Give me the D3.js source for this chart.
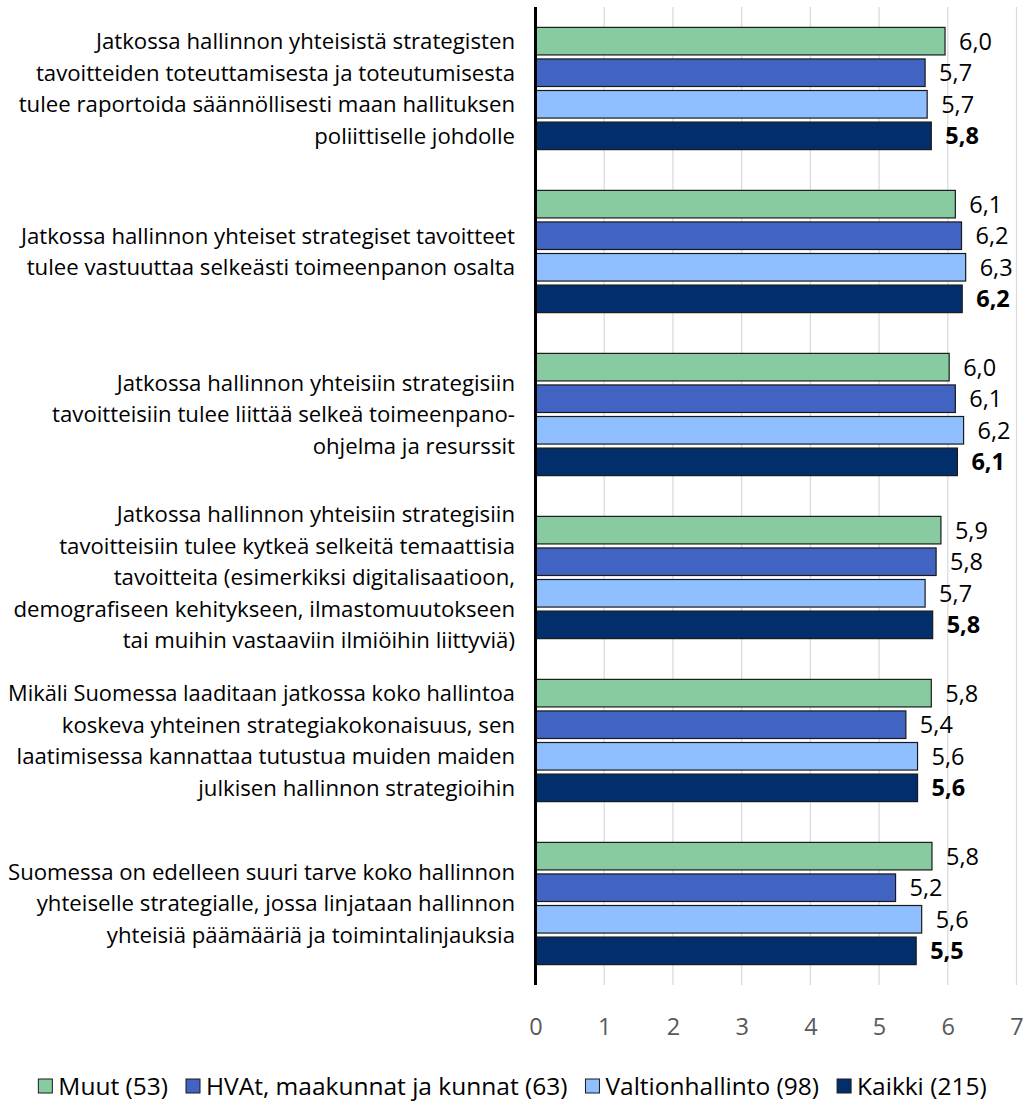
<!DOCTYPE html>
<html>
<head>
<meta charset="utf-8">
<script src="https://cdn.jsdelivr.net/npm/d3@7"></script>
<style>
  body { margin: 0; background: #fff; }
  svg { display: block; font-family: "Open Sans", sans-serif; }
</style>
</head>
<body>
<div id="chart"></div>
<script>
// ------------------------------------------------------------
// Data
// ------------------------------------------------------------
const categories = [
  ["Jatkossa hallinnon yhteisistä strategisten", "tavoitteiden toteuttamisesta ja toteutumisesta", "tulee raportoida säännöllisesti maan hallituksen", "poliittiselle johdolle"],
  ["Jatkossa hallinnon yhteiset strategiset tavoitteet", "tulee vastuuttaa selkeästi toimeenpanon osalta"],
  ["Jatkossa hallinnon yhteisiin strategisiin", "tavoitteisiin tulee liittää selkeä toimeenpano-", "ohjelma ja resurssit"],
  ["Jatkossa hallinnon yhteisiin strategisiin", "tavoitteisiin tulee kytkeä selkeitä temaattisia", "tavoitteita (esimerkiksi digitalisaatioon,", "demografiseen kehitykseen, ilmastomuutokseen", "tai muihin vastaaviin ilmiöihin liittyviä)"],
  ["Mikäli Suomessa laaditaan jatkossa koko hallintoa", "koskeva yhteinen strategiakokonaisuus, sen", "laatimisessa kannattaa tutustua muiden maiden", "julkisen hallinnon strategioihin"],
  ["Suomessa on edelleen suuri tarve koko hallinnon", "yhteiselle strategialle, jossa linjataan hallinnon", "yhteisiä päämääriä ja toimintalinjauksia"]
];

const seriesNames = ["Muut (53)", "HVAt, maakunnat ja kunnat (63)", "Valtionhallinto (98)", "Kaikki (215)"];
const seriesColors = ["#88cba1", "#4163c2", "#8fbfff", "#022e6b"];

const muut = [5.96, 6.11, 6.02, 5.90, 5.76, 5.77];
const hvat = [5.67, 6.20, 6.11, 5.83, 5.39, 5.24];
const valtio = [5.70, 6.26, 6.23, 5.67, 5.56, 5.62];
const kaikki = [5.76, 6.21, 6.14, 5.78, 5.56, 5.54];

const xTicks = [0, 1, 2, 3, 4, 5, 6, 7];

// ------------------------------------------------------------
// Setup
// ------------------------------------------------------------
const width = 1025, height = 1108;
const margin = { top: 7, right: 8.5, bottom: 123, left: 535.5 };

const svg = d3.select("#chart").append("svg")
  .attr("width", width)
  .attr("height", height);

const allSeries = [muut, hvat, valtio, kaikki];
const data = categories.map((lines, i) => ({
  idx: i,
  lines,
  values: allSeries.map((s, j) => ({ series: j, value: s[i] }))
}));

const x = d3.scaleLinear()
  .domain([0, 7])
  .range([margin.left, width - margin.right]);

const y0 = d3.scaleBand()
  .domain(d3.range(categories.length))
  .range([margin.top, height - margin.bottom])
  .paddingInner(0.25)
  .paddingOuter(0.125);

const y1 = d3.scaleBand()
  .domain(d3.range(seriesNames.length))
  .range([0, y0.bandwidth()])
  .paddingInner(0.127);

const fmt = v => d3.format(".1f")(v).replace(".", ",");

// Gridlines
svg.append("g")
  .selectAll("line")
  .data(xTicks.slice(1))
  .join("line")
  .attr("x1", d => x(d))
  .attr("x2", d => x(d))
  .attr("y1", margin.top)
  .attr("y2", height - margin.bottom)
  .attr("stroke", "#d9d9d9")
  .attr("stroke-width", 1.2);

// Bars
const groups = svg.append("g")
  .selectAll("g")
  .data(data)
  .join("g")
  .attr("transform", d => `translate(0,${y0(d.idx)})`);

groups.selectAll("rect")
  .data(d => d.values)
  .join("rect")
  .attr("x", x(0))
  .attr("y", d => y1(d.series))
  .attr("width", d => x(d.value) - x(0))
  .attr("height", y1.bandwidth())
  .attr("fill", d => seriesColors[d.series])
  .attr("stroke", "#1a1a1a")
  .attr("stroke-width", 1.2);

// Value labels
groups.selectAll("text.val")
  .data(d => d.values)
  .join("text")
  .attr("class", "val")
  .attr("x", d => x(d.value) + 14)
  .attr("y", d => y1(d.series) + y1.bandwidth() / 2)
  .attr("dy", "0.36em")
  .attr("font-size", 23.5)
  .attr("font-weight", d => d.series === 3 ? "bold" : "normal")
  .attr("fill", "#000")
  .text(d => fmt(d.value));

// Category labels
const lineH = 31.5;
const labelRight = 515, labelMaxW = 507;
groups.append("text")
  .attr("text-anchor", "end")
  .attr("font-size", 22.2)
  .attr("fill", "#000")
  .selectAll("tspan")
  .data(d => d.lines.map((t, k) => ({ t, k, n: d.lines.length })))
  .join("tspan")
  .attr("x", labelRight)
  .attr("y", d => y0.bandwidth() / 2 + (d.k - (d.n - 1) / 2) * lineH)
  .attr("dy", "0.35em")
  .text(d => d.t)
  .each(function() {
    // squeeze any line that would run off the left edge
    if (this.getComputedTextLength() > labelMaxW) {
      d3.select(this).attr("textLength", labelMaxW).attr("lengthAdjust", "spacingAndGlyphs");
    }
  });

// Axis (value axis at x = 0)
svg.append("line")
  .attr("x1", x(0))
  .attr("x2", x(0))
  .attr("y1", margin.top)
  .attr("y2", height - margin.bottom)
  .attr("stroke", "#000")
  .attr("stroke-width", 3);

const xAxis = svg.append("g")
  .attr("transform", `translate(0,${height - margin.bottom + 33})`)
  .call(d3.axisBottom(x).tickValues(xTicks).tickFormat(d3.format("d")).tickSize(0).tickPadding(0));
xAxis.select(".domain").remove();
xAxis.selectAll("text")
  .attr("font-size", 23.5)
  .attr("font-family", "'Open Sans', sans-serif")
  .attr("fill", "#595959");

// Legend
const legend = svg.append("g").attr("transform", `translate(0,${1086})`);
const items = legend.selectAll("g")
  .data(seriesNames)
  .join("g");

items.append("rect")
  .attr("x", 0)
  .attr("y", -7)
  .attr("width", 14)
  .attr("height", 14)
  .attr("fill", (d, i) => seriesColors[i])
  .attr("stroke", "#1a1a1a")
  .attr("stroke-width", 1);

items.append("text")
  .attr("x", 20)
  .attr("dy", "0.35em")
  .attr("font-size", 24.5)
  .attr("fill", "#000")
  .text(d => d);

// Lay out legend items centered
let widths = [];
items.each(function() {
  widths.push(this.getBBox().width);
});
const gap = 18;
const total = d3.sum(widths) + gap * (widths.length - 1);
let cx = (width - total) / 2;
items.attr("transform", (d, i) => {
  const t = `translate(${cx},0)`;
  cx += widths[i] + gap;
  return t;
});
</script>
</body>
</html>
